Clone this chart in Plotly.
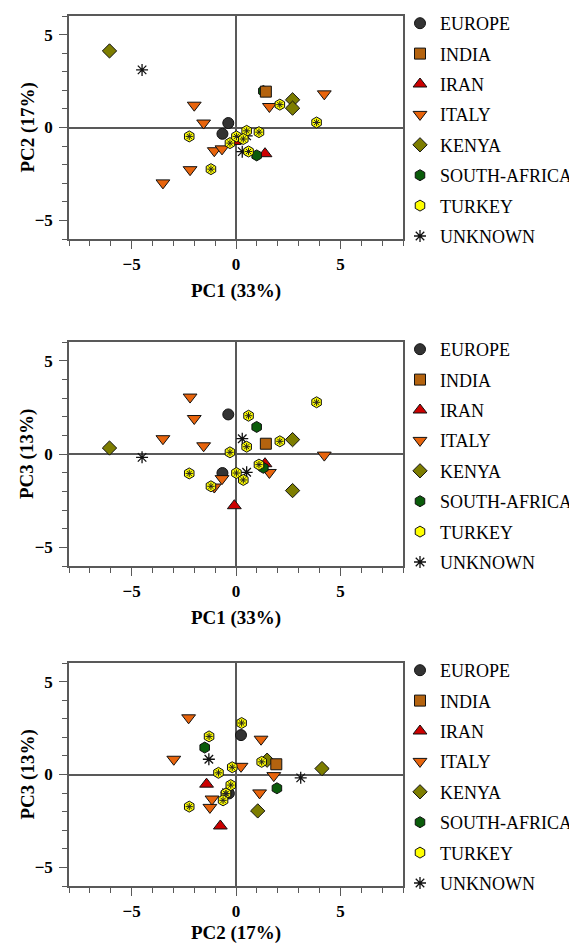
import plotly.graph_objects as go

# ---------------- data ----------------
groups = ["EUROPE", "INDIA", "IRAN", "ITALY", "KENYA", "SOUTH-AFRICA", "TURKEY", "UNKNOWN"]

europe_pc1 = [-0.37, -0.65]
europe_pc2 = [0.24, -0.34]
europe_pc3 = [2.12, -1.02]

india_pc1 = [1.43]
india_pc2 = [1.93]
india_pc3 = [0.55]

iran_pc1 = [-0.08, 1.39]
iran_pc2 = [-0.75, -1.41]
iran_pc3 = [-2.77, -0.52]

italy_pc1 = [-2.0, -1.55, -2.2, -3.5, -1.04, -0.67, 1.6, 4.23]
italy_pc2 = [1.2, 0.24, -2.27, -2.98, -1.25, -1.15, 1.13, 1.81]
italy_pc3 = [1.9, 0.44, 3.05, 0.82, -1.77, -1.32, -0.99, -0.06]

kenya_pc1 = [-6.06, 2.71, 2.71]
kenya_pc2 = [4.12, 1.49, 1.04]
kenya_pc3 = [0.32, 0.77, -1.96]

safrica_pc1 = [0.99, 1.31]
safrica_pc2 = [-1.5, 1.96]
safrica_pc3 = [1.45, -0.74]

turkey_pc1 = [-2.24, -1.2, 0.6, 0.51, -0.29, 0.02, 0.35, 1.1, 2.1, 3.86]
turkey_pc2 = [-0.48, -2.24, -1.29, -0.18, -0.84, -0.48, -0.62, -0.25, 1.23, 0.27]
turkey_pc3 = [-1.04, -1.73, 2.05, 0.39, 0.09, -1.02, -1.39, -0.57, 0.68, 2.77]

unknown_pc1 = [-4.5, 0.3, 0.51]
unknown_pc2 = [3.1, -1.3, -0.45]
unknown_pc3 = [-0.18, 0.82, -0.98]

pc_labels = ["PC1 (33%)", "PC2 (17%)", "PC3 (13%)"]
tick_vals = [-5, 0, 5]

# ---------------- styling ----------------
data = {
    "EUROPE": (europe_pc1, europe_pc2, europe_pc3),
    "INDIA": (india_pc1, india_pc2, india_pc3),
    "IRAN": (iran_pc1, iran_pc2, iran_pc3),
    "ITALY": (italy_pc1, italy_pc2, italy_pc3),
    "KENYA": (kenya_pc1, kenya_pc2, kenya_pc3),
    "SOUTH-AFRICA": (safrica_pc1, safrica_pc2, safrica_pc3),
    "TURKEY": (turkey_pc1, turkey_pc2, turkey_pc3),
    "UNKNOWN": (unknown_pc1, unknown_pc2, unknown_pc3),
}
style = {
    "EUROPE": dict(symbol="circle", color="#333333", size=11),
    "INDIA": dict(symbol="square", color="#b4630f", size=11),
    "IRAN": dict(symbol="triangle-up", color="#cc0000", size=12),
    "ITALY": dict(symbol="triangle-down", color="#e8640c", size=12),
    "KENYA": dict(symbol="diamond", color="#7d7d00", size=11),
    "SOUTH-AFRICA": dict(symbol="hexagon", color="#0a5c0a", size=11),
    "TURKEY": dict(symbol="hexagon", color="#ffff00", size=11),
    "UNKNOWN": dict(symbol="asterisk-open", color="#111111", size=10),
}
# (x index, y index) per panel
panels = [(0, 1), (0, 2), (1, 2)]

W, H = 569, 944
ML, MR, MT, MB = 69, 166, 16, 58
plot_w = W - ML - MR
plot_h = H - MT - MB
panel_px = [(16, 239), (342, 566), (663, 886)]  # top, bottom in pixels


def ypaper(px):
    return (H - MB - px) / plot_h


SERIF = "Liberation Serif"
AXC = "#595959"

fig = go.Figure()

# drawing order (legend order is kept through legendrank)
draw_order = ["UNKNOWN", "EUROPE", "IRAN", "ITALY", "KENYA", "SOUTH-AFRICA", "INDIA", "TURKEY"]

for p, (xi, yi) in enumerate(panels):
    xa = "x" if p == 0 else f"x{p + 1}"
    ya = "y" if p == 0 else f"y{p + 1}"
    lg = "legend" if p == 0 else f"legend{p + 1}"
    for g in draw_order:
        st = style[g]
        xs = data[g][xi]
        ys = data[g][yi]
        if st["symbol"] == "asterisk-open":
            marker = dict(symbol=st["symbol"], size=st["size"], color=st["color"],
                          line=dict(color=st["color"], width=1.3))
        else:
            marker = dict(symbol=st["symbol"], size=st["size"], color=st["color"],
                          line=dict(color="#111111", width=1))
        fig.add_trace(go.Scatter(
            x=xs, y=ys, mode="markers", name=g, marker=marker,
            xaxis=xa, yaxis=ya, legend=lg, legendgroup=f"{p}_{g}",
            legendrank=groups.index(g) + 1, showlegend=True,
        ))
        if g == "TURKEY":
            fig.add_trace(go.Scatter(
                x=xs, y=ys, mode="markers", name=g,
                marker=dict(symbol="asterisk-open", size=6, color="#222222",
                            line=dict(color="#222222", width=1)),
                xaxis=xa, yaxis=ya, legend=lg, legendgroup=f"{p}_{g}",
                legendrank=groups.index(g) + 1, showlegend=False,
                hoverinfo="skip",
            ))

axis_common = dict(
    showline=True, mirror=True, linecolor=AXC, linewidth=1.5,
    showgrid=False, zeroline=True, zerolinecolor=AXC, zerolinewidth=1.5,
    ticks="outside", ticklen=8, tickwidth=1.3, tickcolor=AXC,
    tickmode="array", tickvals=tick_vals,
    minor=dict(ticks="outside", dtick=1, tick0=0, ticklen=5, tickwidth=1.3,
               tickcolor=AXC, showgrid=False),
    tickfont=dict(family=SERIF, size=17, color="black", weight="bold"),
    fixedrange=True, automargin=False,
)

title_font = dict(family=SERIF, size=19, color="black", weight="bold")

layout = dict(
    width=W, height=H,
    margin=dict(l=ML, r=MR, t=MT, b=MB, autoexpand=False),
    paper_bgcolor="white", plot_bgcolor="white",
    font=dict(family=SERIF, color="black"),
    showlegend=True,
    annotations=[],
)

for p, (xi, yi) in enumerate(panels):
    sx = "" if p == 0 else str(p + 1)
    top, bot = panel_px[p]
    layout["xaxis" + sx] = dict(
        axis_common, domain=[0, 1], range=[-8, 8], anchor="y" + sx,
        ticklabelstandoff=1,
        title=dict(text=pc_labels[xi], standoff=11, font=title_font),
    )
    layout["yaxis" + sx] = dict(
        axis_common, domain=[ypaper(bot), ypaper(top)], range=[-6, 6], anchor="x" + sx,
        ticklabelstandoff=3,
    )
    layout["annotations"].append(dict(
        text=pc_labels[yi], textangle=-90, showarrow=False,
        xref="paper", x=(27 - ML) / plot_w, xanchor="center",
        yref="y" + sx + " domain", y=0.5, yanchor="middle",
        font=title_font,
    ))
    layout["legend" if p == 0 else f"legend{p + 1}"] = dict(
        xref="container", yref="container",
        x=400 / W, xanchor="left", y=1 - (top - 11) / H, yanchor="top",
        traceorder="grouped", tracegroupgap=4,
        font=dict(family=SERIF, size=18, color="black"),
        bgcolor="rgba(0,0,0,0)", borderwidth=0,
        itemclick=False, itemdoubleclick=False,
    )

fig.update_layout(**layout)
fig.write_html(
    "out.html",
    config={"displayModeBar": False},
    post_script="document.body.style.margin='0';document.body.style.overflow='hidden';",
)
